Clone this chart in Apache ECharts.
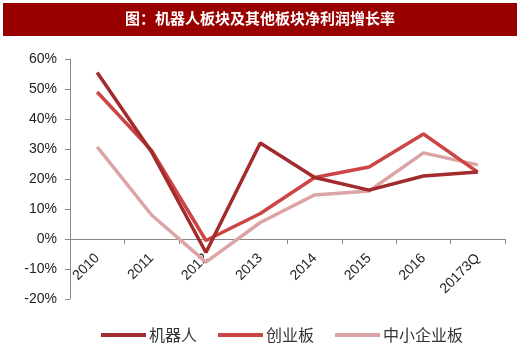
<!DOCTYPE html>
<html><head><meta charset="utf-8">
<script src="https://cdn.jsdelivr.net/npm/echarts@6/dist/echarts.min.js"></script>
<style>html,body{margin:0;padding:0;background:#fff}#c{width:520px;height:361px}</style>
</head><body><div id="c"></div>
<script>
var categories = ['2010','2011','2012','2013','2014','2015','2016','20173Q'];
var robot = [55.5, 29, -4.5, 32, 20.5, 16.3, 21, 22.3];
var chinext = [49, 29.5, -0.5, 8.5, 20.5, 24, 35, 22.3];
var sme = [30.7, 8, -7.7, 5.5, 14.7, 16, 28.7, 24.7];
var yTicks = [-20, -10, 0, 10, 20, 30, 40, 50, 60];
var names = ['机器人','创业板','中小企业板'];
var colors = ['#a12b2d','#cc4444','#dca4a4'];
var chart = echarts.init(document.getElementById('c'));
var font = '"Liberation Sans","DejaVu Sans",sans-serif';
var cjk = '"Noto Sans CJK SC",sans-serif';
chart.setOption({
  animation:false,
  graphic:[{type:'rect',left:3,top:3,shape:{width:514,height:33},style:{fill:'#990000'}},
    {type:'text',left:'center',top:11,style:{text:'图：机器人板块及其他板块净利润增长率',fill:'#fff',font:'bold 15px '+cjk}}],
  legend:{top:322,left:96,itemWidth:45,itemHeight:4,itemGap:21,icon:'rect',
    textStyle:{fontFamily:cjk,fontSize:16,color:'#333',padding:[0,0,0,-2]},data:names},
  grid:{left:70,right:15,top:59,bottom:62},
  xAxis:{type:'category',data:categories,boundaryGap:true,offset:-60,
    axisLine:{onZero:false,lineStyle:{color:'#888'}},
    axisTick:{show:true,length:5,lineStyle:{color:'#888'}},
    axisLabel:{rotate:45,fontFamily:font,fontSize:14,color:'#222',margin:17}},
  yAxis:{type:'value',min:-20,max:60,interval:10,
    axisLine:{show:true,lineStyle:{color:'#888'}},
    axisTick:{show:true,length:5,lineStyle:{color:'#888'}},
    splitLine:{show:false},
    axisLabel:{fontFamily:font,fontSize:14,color:'#222',margin:13,formatter:function(v){return yTicks.indexOf(v)>=0?v+'%':'';}}},
  series:[robot,chinext,sme].map(function(d,i){return {name:names[i],type:'line',data:d,symbol:'none',
    lineStyle:{width:3.5,color:colors[i]},itemStyle:{color:colors[i]},z:3-i};})
});
</script></body></html>
